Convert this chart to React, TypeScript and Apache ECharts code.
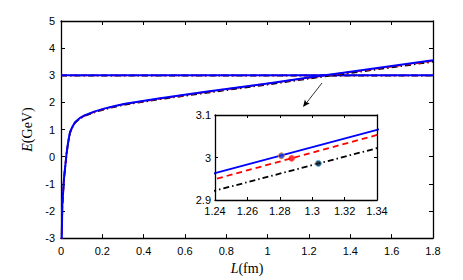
import React, { useEffect, useRef } from 'react';
import * as echarts from 'echarts';

// L (fm) sample positions
const L = [0.003, 0.0064, 0.0145, 0.0227, 0.027, 0.032, 0.038, 0.0435, 0.055, 0.068, 0.09, 0.116, 0.164, 0.213, 0.261, 0.31, 0.48, 0.7, 1.0, 1.24, 1.34, 1.6, 1.8];
// E (GeV) for the three curves
const blueE = [-3.2, -1.78, -0.8, -0.19, 0.12, 0.41, 0.68, 0.9, 1.1, 1.27, 1.42, 1.53, 1.67, 1.78, 1.87, 1.95, 2.15, 2.39, 2.7, 2.963, 3.065, 3.34, 3.55];
const redE = [-3.2, -1.79, -0.81, -0.2, 0.11, 0.4, 0.67, 0.89, 1.09, 1.26, 1.41, 1.52, 1.66, 1.77, 1.86, 1.94, 2.14, 2.38, 2.69, 2.949, 3.053, 3.32, 3.53];
const blackE = [-3.2, -1.8, -0.82, -0.21, 0.1, 0.39, 0.66, 0.88, 1.08, 1.25, 1.4, 1.51, 1.64, 1.75, 1.84, 1.92, 2.12, 2.35, 2.66, 2.922, 3.022, 3.29, 3.5];
// horizontal thresholds
const thresholdL = [0, 1.8];
const blueThreshold = 3.004;
const redThreshold = 2.998;
const blackThreshold = 2.986;
// crossing points shown in the inset
const crossL = [1.281, 1.2873, 1.3038];
const crossE = [3.004, 2.998, 2.986];

const BLUE = '#0000ff';
const RED = '#ff0000';
const BLACK = '#000000';

export default function App() {
  const ref = useRef<HTMLDivElement>(null);
  useEffect(() => {
    if (!ref.current) return;
    const chart = echarts.init(ref.current, undefined, { renderer: 'svg' });
    const pts = (ys: number[]) => L.map((l, i) => [l, ys[i]]);
    const hline = (v: number) => thresholdL.map((l) => [l, v]);
    const tickFont = { fontFamily: 'Liberation Sans, Arial, sans-serif', fontSize: 11, color: '#000' };
    const axisLine = { show: true, onZero: false, lineStyle: { color: '#000', width: 1.3 } };
    const nameRich = {
      i: { fontFamily: 'Liberation Serif, Times New Roman, serif', fontStyle: 'italic' as const, fontSize: 14, color: '#000' },
      n: { fontFamily: 'Liberation Serif, Times New Roman, serif', fontSize: 14, color: '#000' },
    };
    const mainX = { min: 0, max: 1.8, interval: 0.2 };
    const mainY = { min: -3, max: 5, interval: 1 };
    const insX = { min: 1.24, max: 1.34, interval: 0.02 };
    const insY = { min: 2.9, max: 3.1, interval: 0.1 };
    const curveLine = (name: string, ys: number[], color: string, type: any, w: number, x: number, y: number, z: number) => ({
      type: 'line', name, data: pts(ys), xAxisIndex: x, yAxisIndex: y, showSymbol: false,
      smooth: false, clip: true,
      lineStyle: { color, width: w, type, join: 'round' }, z,
    });
    const dashDot = [6, 3, 1.5, 3];
    const dashed = [6, 4];
    chart.setOption({
      animation: false,
      backgroundColor: '#fff',
      grid: [
        { left: 61, top: 21, width: 372, height: 219 },
        { left: 215, top: 115, width: 162, height: 85, show: true, backgroundColor: '#fff', borderWidth: 0, z: 5 },
      ],
      xAxis: [
        {
          type: 'value', gridIndex: 0, position: 'bottom', ...mainX, axisLine,
          axisTick: { show: true, inside: true, length: 4, lineStyle: { color: '#000', width: 1 } },
          axisLabel: { ...tickFont, margin: 7 }, splitLine: { show: false },
          name: '{i|L}{n|(fm)}', nameLocation: 'middle', nameGap: 16, nameTextStyle: { rich: nameRich },
        },
        {
          type: 'value', gridIndex: 0, position: 'top', ...mainX, axisLine,
          axisTick: { show: true, inside: true, length: 4, lineStyle: { color: '#000', width: 1 } },
          axisLabel: { show: false }, splitLine: { show: false },
        },
        {
          type: 'value', gridIndex: 1, position: 'bottom', ...insX, axisLine, z: 10,
          axisTick: { show: true, inside: true, length: 3, lineStyle: { color: '#000', width: 1 } },
          axisLabel: { ...tickFont, margin: 5, formatter: (v: number) => String(parseFloat(v.toFixed(2))) }, splitLine: { show: false },
        },
        {
          type: 'value', gridIndex: 1, position: 'top', ...insX, axisLine, z: 10,
          axisTick: { show: true, inside: true, length: 3, lineStyle: { color: '#000', width: 1 } },
          axisLabel: { show: false }, splitLine: { show: false },
        },
      ],
      yAxis: [
        {
          type: 'value', gridIndex: 0, position: 'left', ...mainY, axisLine,
          axisTick: { show: true, inside: true, length: 4, lineStyle: { color: '#000', width: 1 } },
          axisLabel: { ...tickFont, margin: 6 }, splitLine: { show: false },
          name: '{i|E}{n|(GeV)}', nameLocation: 'middle', nameGap: 20, nameTextStyle: { rich: nameRich },
        },
        {
          type: 'value', gridIndex: 0, position: 'right', ...mainY, axisLine,
          axisTick: { show: true, inside: true, length: 4, lineStyle: { color: '#000', width: 1 } },
          axisLabel: { show: false }, splitLine: { show: false },
        },
        {
          type: 'value', gridIndex: 1, position: 'left', ...insY, axisLine, z: 10,
          axisTick: { show: true, inside: true, length: 3, lineStyle: { color: '#000', width: 1 } },
          axisLabel: { ...tickFont, margin: 4, formatter: (v: number) => String(parseFloat(v.toFixed(2))) }, splitLine: { show: false },
        },
        {
          type: 'value', gridIndex: 1, position: 'right', ...insY, axisLine, z: 10,
          axisTick: { show: true, inside: true, length: 3, lineStyle: { color: '#000', width: 1 } },
          axisLabel: { show: false }, splitLine: { show: false },
        },
      ],
      series: [
        { type: 'line', data: hline(blackThreshold), xAxisIndex: 0, yAxisIndex: 0, showSymbol: false, lineStyle: { color: BLACK, width: 1.6, type: dashDot }, z: 2 },
        { type: 'line', data: hline(redThreshold), xAxisIndex: 0, yAxisIndex: 0, showSymbol: false, lineStyle: { color: RED, width: 1.6, type: dashed }, z: 2 },
        { type: 'line', data: hline(blueThreshold), xAxisIndex: 0, yAxisIndex: 0, showSymbol: false, lineStyle: { color: BLUE, width: 2 }, z: 2 },
        curveLine('black', blackE, BLACK, dashDot, 1.8, 0, 0, 3),
        curveLine('red', redE, RED, dashed, 1.8, 0, 0, 3),
        curveLine('blue', blueE, BLUE, 'solid', 2, 0, 0, 3),
        curveLine('blackIn', blackE, BLACK, dashDot, 1.8, 2, 2, 8),
        curveLine('redIn', redE, RED, dashed, 1.8, 2, 2, 8),
        curveLine('blueIn', blueE, BLUE, 'solid', 1.8, 2, 2, 8),
        {
          type: 'scatter', xAxisIndex: 2, yAxisIndex: 2, symbolSize: 6, z: 9,
          data: [
            { value: [crossL[0], crossE[0]], itemStyle: { color: '#1a2fd0', borderColor: '#e0902a', borderWidth: 1 } },
            { value: [crossL[1], crossE[1]], itemStyle: { color: RED, borderColor: '#ff3030', borderWidth: 0.5 } },
            { value: [crossL[2], crossE[2]], itemStyle: { color: '#0a1a2a', borderColor: '#3ab0e8', borderWidth: 1 } },
          ],
        },
      ],
      graphic: [
        { type: 'line', shape: { x1: 322, y1: 83, x2: 306, y2: 103.5 }, style: { stroke: '#000', lineWidth: 0.8 }, z: 10 },
        { type: 'polygon', shape: { points: [[303, 107], [309.7, 103.3], [306.2, 102.2], [304.9, 99.6]] }, style: { fill: '#000' }, z: 10 },
      ],
    });
    return () => chart.dispose();
  }, []);
  return <div ref={ref} style={{ position: 'fixed', left: 0, top: 0, width: 463, height: 280 }} />;
}
